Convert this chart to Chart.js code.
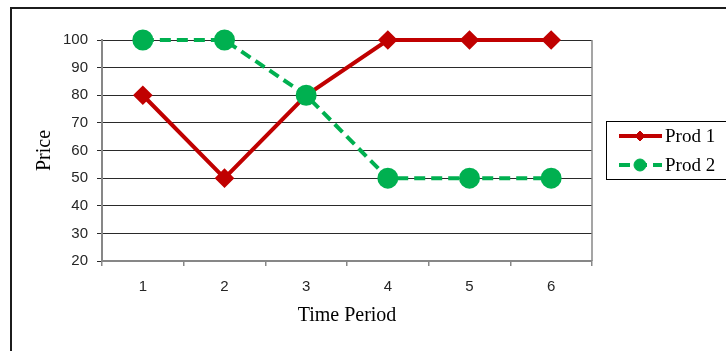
<!DOCTYPE html>
<html>
<head>
<meta charset="utf-8">
<script src="https://cdn.jsdelivr.net/npm/chart.js@4.4.1/dist/chart.umd.min.js"></script>
<style>
  html, body { margin: 0; padding: 0; background: #fff; }
  canvas { display: block; }
</style>
</head>
<body>
<canvas id="c" width="726" height="351"></canvas>
<script>
// Price per product over six time periods
const periods = ['1', '2', '3', '4', '5', '6'];
const prod1 = [80, 50, 80, 100, 100, 100];
const prod2 = [100, 100, 80, 50, 50, 50];
const seriesNames = ['Prod 1', 'Prod 2'];
const yTitle = 'Price';
const xTitle = 'Time Period';

const RED = '#C00000';
const GREEN = '#00B050';
const AXIS_GRAY = '#878787';
const SERIF = '"Liberation Serif", "DejaVu Serif", serif';
const SANS = '"Liberation Sans", Arial, sans-serif';

// Frame lines, right edge of the plot and the boxed legend
const decorations = {
  id: 'decorations',
  afterDraw(chart) {
    const ctx = chart.ctx;
    const a = chart.chartArea;
    ctx.save();
    // outer frame (top and left edges)
    ctx.fillStyle = '#1c1c1c';
    ctx.fillRect(10, 7, 716, 2);
    ctx.fillRect(10, 7, 2, 344);
    // right edge of the plot area
    ctx.strokeStyle = AXIS_GRAY;
    ctx.lineWidth = 1.5;
    ctx.beginPath();
    ctx.moveTo(a.right, a.top);
    ctx.lineTo(a.right, a.bottom);
    ctx.stroke();

    // legend box
    const bx = 606.5, by = 121.5, bw = 120, bh = 58;
    ctx.strokeStyle = '#000';
    ctx.lineWidth = 1;
    ctx.strokeRect(bx, by, bw, bh);
    const rows = [136, 165];
    chart.data.datasets.forEach((ds, i) => {
      const y = rows[i];
      ctx.save();
      ctx.strokeStyle = ds.borderColor;
      ctx.lineWidth = 4;
      ctx.setLineDash(ds.borderDash || []);
      ctx.beginPath();
      ctx.moveTo(619, y);
      ctx.lineTo(662, y);
      ctx.stroke();
      ctx.restore();
      ctx.fillStyle = ds.pointBackgroundColor;
      ctx.strokeStyle = ds.pointBorderColor;
      Chart.helpers.drawPoint(ctx, {
        pointStyle: ds.pointStyle,
        radius: ds.legendRadius,
        rotation: 0,
        borderWidth: 1
      }, 640, y);
      ctx.fillStyle = '#000';
      ctx.font = '19px ' + SERIF;
      ctx.textBaseline = 'middle';
      ctx.textAlign = 'left';
      ctx.fillText(ds.label, 665, y + 1);
    });
    ctx.restore();
  }
};

new Chart(document.getElementById('c'), {
  type: 'line',
  data: {
    labels: periods,
    datasets: [
      {
        label: seriesNames[0],
        data: prod1,
        order: 1,
        borderColor: RED,
        backgroundColor: RED,
        borderWidth: 4,
        pointStyle: 'rectRot',
        pointRadius: 7,
        pointBackgroundColor: RED,
        pointBorderColor: RED,
        legendRadius: 5,
        tension: 0,
        clip: false
      },
      {
        label: seriesNames[1],
        data: prod2,
        order: 0,
        borderColor: GREEN,
        backgroundColor: GREEN,
        borderWidth: 4,
        borderDash: [11, 6],
        pointStyle: 'circle',
        pointRadius: 8.5,
        pointBackgroundColor: GREEN,
        pointBorderColor: GREEN,
        legendRadius: 6,
        tension: 0,
        clip: false
      }
    ]
  },
  options: {
    responsive: false,
    animation: false,
    events: [],
    layout: { padding: { left: 0, right: 134, top: 40, bottom: 0 } },
    plugins: {
      legend: { display: false },
      tooltip: { enabled: false },
      title: { display: false }
    },
    scales: {
      x: {
        offset: true,
        grid: {
          offset: true,
          drawOnChartArea: false,
          drawTicks: true,
          tickLength: 5,
          color: AXIS_GRAY,
          lineWidth: 1.5
        },
        border: { color: AXIS_GRAY, width: 2 },
        ticks: {
          color: '#262626',
          font: { family: SANS, size: 15 },
          padding: 12,
          maxRotation: 0
        },
        title: {
          display: true,
          text: xTitle,
          color: '#000',
          font: { family: SERIF, size: 20 },
          padding: { top: 0, bottom: 23 }
        },
        afterFit(scale) { scale.height = 90; }
      },
      y: {
        min: 20,
        max: 100,
        ticks: {
          stepSize: 10,
          color: '#262626',
          font: { family: SANS, size: 15 },
          padding: 9
        },
        grid: {
          color: '#2a2a2a',
          lineWidth: 1,
          tickLength: 5,
          drawTicks: true
        },
        border: { color: AXIS_GRAY, width: 2 },
        title: {
          display: true,
          text: yTitle,
          color: '#000',
          font: { family: SERIF, size: 20 },
          padding: { top: 33, bottom: 0 }
        },
        afterFit(scale) { scale.width = 102; }
      }
    }
  },
  plugins: [decorations]
});
</script>
</body>
</html>
